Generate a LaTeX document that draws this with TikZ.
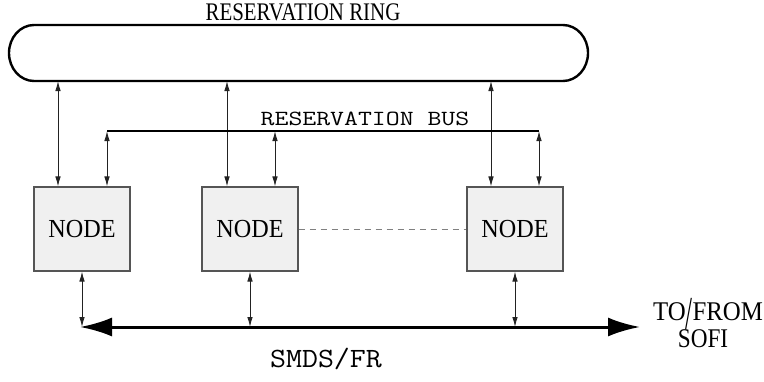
\documentclass[tikz,border=0pt]{standalone}
\usepackage{fontspec}
\setmainfont{Liberation Serif}
\usetikzlibrary{arrows.meta}

\definecolor{boxfill}{HTML}{F0F0F0}
\definecolor{boxline}{HTML}{555555}
\definecolor{wire}{HTML}{222222}

\tikzset{
  nodebox/.style={draw=boxline, fill=boxfill, line width=1.1bp,
    minimum width=96bp, minimum height=84bp, inner sep=0pt,
    font=\fontsize{26bp}{27bp}\selectfont},
  link/.style={draw=wire, line width=0.9bp,
    {Latex[length=10bp,width=5.5bp]}-{Latex[length=10bp,width=5.5bp]}},
  ringline/.style={draw=black, line width=2.4bp},
  busline/.style={draw=black, line width=2.6bp},
  mainbus/.style={draw=black, line width=3bp,
    {Latex[length=32bp,width=19bp]}-{Latex[length=32bp,width=19bp]}},
  dotted link/.style={draw=gray, line width=0.9bp, dash pattern=on 6bp off 5bp},
  label/.style={inner sep=0pt, anchor=base}
}

\begin{document}
\begin{tikzpicture}[x=1bp, y=-1bp]
  \useasboundingbox (0,0) rectangle (764,381);

  % reservation ring
  \draw[ringline] (34,25) -- (563,25)
    arc[start angle=-90, end angle=90, x radius=25, y radius=28]
    -- (34,81)
    arc[start angle=90, end angle=270, x radius=25, y radius=28]
    -- cycle;
  \node[label] (ringtext) at (303,20)
    {\fontsize{22bp}{22bp}\selectfont\scalebox{0.95}[1.15]{RESERVATION RING}};

  % taps on the ring
  \coordinate (r1) at (58,81);
  \coordinate (r2) at (227,81);
  \coordinate (r3) at (491,81);

  % nodes
  \node[nodebox] (n1) at (82,229) {\scalebox{0.93}[1]{NODE}};
  \node[nodebox] (n2) at (250,229) {\scalebox{0.93}[1]{NODE}};
  \node[nodebox] (n3) at (515,229) {\scalebox{0.93}[1]{NODE}};

  \draw[dotted link] (n2.east) -- (n3.west);

  % ring to node links
  \draw[link] (r1) -- (r1 |- n1.north);
  \draw[link] (r2) -- (r2 |- n2.north);
  \draw[link] (r3) -- (r3 |- n3.north);

  % reservation bus
  \coordinate (b1) at (107,131);
  \coordinate (b2) at (275,131);
  \coordinate (b3) at (539,131);
  \draw[busline] (b1) -- (b3);
  \node[label] (bustext) at (365,125)
    {\ttfamily\fontsize{27bp}{27bp}\selectfont\scalebox{1}[0.8]{RESERVATION BUS}};
  \draw[link] (b1) -- (b1 |- n1.north);
  \draw[link] (b2) -- (b2 |- n2.north);
  \draw[link] (b3) -- (b3 |- n3.north);

  % SMDS/FR bus
  \coordinate (s1) at (80,327);
  \coordinate (s2) at (640,327);
  \draw[mainbus] (s1) -- (s2);
  \draw[link] (n1.south) -- (n1.south |- s1);
  \draw[link] (n2.south) -- (n2.south |- s1);
  \draw[link] (n3.south) -- (n3.south |- s1);

  \node[label] (smdstext) at (326,367)
    {\ttfamily\fontsize{31bp}{31bp}\selectfont\scalebox{1}[0.9]{SMDS/FR}};
  % the long slash reaches down towards the second line
  \node[label] (tofrom) at (708,320)
    {\fontsize{27bp}{27bp}\selectfont\scalebox{0.92}[1]{TO\smash{\raisebox{-9bp}{\scalebox{1}[1.75]{/}}}FROM}};
  \node[label] (sofi) at (703,347)
    {\fontsize{27bp}{27bp}\selectfont\scalebox{0.86}[1]{SOFI}};
\end{tikzpicture}
\end{document}
